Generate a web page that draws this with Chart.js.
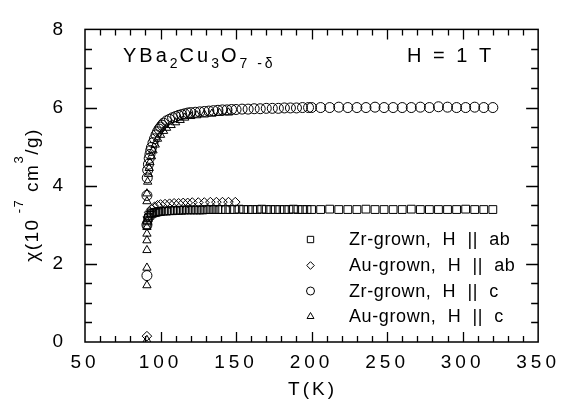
<!DOCTYPE html>
<html><head><meta charset="utf-8">
<script src="https://cdn.jsdelivr.net/npm/chart.js@4/dist/chart.umd.min.js"></script>
<style>html,body{margin:0;padding:0;background:#fff}#wrap{width:563px;height:402px}</style>
</head><body><div id="wrap"><canvas id="c" width="563" height="402"></canvas></div>
<script>
// ---- data ----
const seriesLabels = ["Zr-grown,  H  ||  ab", "Au-grown,  H  ||  ab", "Zr-grown,  H  ||  c", "Au-grown,  H  ||  c"];

const zrAbT = [91,91.5,92,93,94,95,96,97,98,99,100,
  102,104,106,108,110,112,114,116,118,120,122,124,126,128,130,132,134,136,138,140,
  143,146,149,152,155,158,161,164,167,170,173,176,179,182,185,188,191,194,197,
  200,206,212,218,224,230,236,242,248,254,260,266,272,278,284,290,296,302,308,314,320];
const zrAbChi = [3.0,3.1,3.18,3.24,3.28,3.3,3.31,3.32,3.33,3.34,3.34,
  3.35,3.35,3.36,3.36,3.37,3.37,3.37,3.38,3.38,3.38,3.38,3.38,3.38,3.38,3.39,3.39,3.39,3.39,3.39,3.39,
  3.39,3.39,3.39,3.4,3.39,3.39,3.39,3.39,3.4,3.39,3.39,3.39,3.39,3.39,3.39,3.4,3.39,3.39,3.39,
  3.39,3.39,3.4,3.39,3.39,3.39,3.4,3.39,3.39,3.39,3.39,3.4,3.39,3.39,3.39,3.39,3.39,3.4,3.39,3.39,3.39];

const auAbT = [91,91.5,92.5,94,96,98,100,103,106,109,112,115,118,121,125,129,133,137,141,145,149.5];
const auAbChi = [0.15,3.2,3.32,3.4,3.46,3.5,3.52,3.53,3.54,3.55,3.55,3.56,3.56,3.57,3.57,3.57,3.58,3.58,3.58,3.58,3.58];

const zrCT = [91,91,91,91.2,91.5,92,92.5,93,93.5,94,
  95,96,97,98,99,100,101,102,
  104,106,108,110,112,114,116,118,120,
  123,126,129,132,135,138,141,144,147,150,
  154,158,162,166,170,174,178,182,186,190,194,198,
  200,206,212,218,224,230,236,242,248,254,260,266,272,278,284,290,296,302,308,314,320];
const zrCChi = [1.7,3.0,3.75,4.2,4.4,4.55,4.7,4.8,4.9,4.98,
  5.1,5.2,5.3,5.38,5.45,5.5,5.55,5.6,
  5.66,5.7,5.74,5.77,5.8,5.82,5.84,5.86,5.87,
  5.88,5.89,5.9,5.91,5.92,5.93,5.94,5.94,5.95,5.95,
  5.96,5.96,5.97,5.97,5.98,5.98,5.98,5.99,5.99,5.99,6.0,6.0,
  6.0,6.0,6.0,6.01,6.0,6.0,6.0,6.01,6.0,6.0,6.0,6.0,6.01,6.0,6.02,6.01,6.0,6.0,6.01,6.0,6.0];

const auCT = [91,91,91,91,91,91,91,91,91,91,91.5,92,92.5,93,94,95,96.5,98,100,102,104,107,110,113,116,120,124,129,134,139,145];
const auCChi = [0.05,1.45,1.9,2.35,2.6,2.77,2.94,3.1,3.6,3.8,4.1,4.3,4.45,4.6,4.75,4.9,5.05,5.2,5.3,5.4,5.48,5.55,5.62,5.68,5.74,5.78,5.8,5.82,5.84,5.86,5.87];

const xTicks = [50,100,150,200,250,300,350];
const yTicks = [0,2,4,6,8];
const xTitle = "T(K)";
const sampleParts = [["YBa",0],["2",1],["Cu",0],["3",1],["O",0],["7 -δ",1]];
const fieldText = "H = 1 T";
const yTitleParts = [["χ(10",0],[" -7",1],[" cm",0],["3",1],["/g)",0]];

// ---- chart ----
const FONT = "'Liberation Sans', Arial, Helvetica, sans-serif";
const pts = (T, v) => T.map((t, i) => ({x: t, y: v[i]}));
const styles = ['rect','rectRot','circle','triangle'];
const radii = [5.5, 4.8, 5, 4.8];
const legendR = [4.5, 3.8, 4, 4];

function drawMarker(ctx, style, x, y, r) {
  ctx.beginPath();
  if (style === 'rect') { const s = r * Math.SQRT1_2; ctx.rect(x - s, y - s, 2*s, 2*s); }
  else if (style === 'rectRot') { ctx.moveTo(x, y - r); ctx.lineTo(x + r, y); ctx.lineTo(x, y + r); ctx.lineTo(x - r, y); ctx.closePath(); }
  else if (style === 'circle') { ctx.arc(x, y, r, 0, Math.PI*2); }
  else { ctx.moveTo(x, y - r); ctx.lineTo(x + r*0.866, y + r*0.5); ctx.lineTo(x - r*0.866, y + r*0.5); ctx.closePath(); }
  ctx.stroke();
}

const decor = {
  id: 'decor',
  beforeDraw(chart) { chart.ctx.letterSpacing = '4px'; },
  beforeDatasetsDraw(chart) { chart.ctx.letterSpacing = '0px'; },
  afterDraw(chart) {
    const ctx = chart.ctx, a = chart.chartArea, xs = chart.scales.x, ys = chart.scales.y;
    ctx.save();
    ctx.strokeStyle = '#000'; ctx.fillStyle = '#000';
    ctx.lineWidth = 1.5;
    ctx.strokeRect(a.left, a.top, a.right - a.left, a.bottom - a.top);
    ctx.lineWidth = 1.3;
    ctx.beginPath();
    for (let v = xs.min + 10; v < xs.max; v += 10) {
      const p = Math.round(xs.getPixelForValue(v)) + 0.5;
      const len = (v % 50 === 0) ? 10 : 6;
      ctx.moveTo(p, a.bottom); ctx.lineTo(p, a.bottom - len);
      ctx.moveTo(p, a.top); ctx.lineTo(p, a.top + len);
    }
    for (let v = ys.min + 0.5; v < ys.max; v += 0.5) {
      const p = Math.round(ys.getPixelForValue(v)) + 0.5;
      const len = (v % 2 === 0) ? 12 : 7;
      ctx.moveTo(a.left, p); ctx.lineTo(a.left + len, p);
      ctx.moveTo(a.right, p); ctx.lineTo(a.right - len, p);
    }
    ctx.stroke();

    // x title
    ctx.letterSpacing = '3px';
    ctx.font = '19px ' + FONT;
    ctx.textAlign = 'center'; ctx.textBaseline = 'middle';
    ctx.fillText(xTitle, (a.left + a.right) / 2 + 1, 390);

    // y title (rotated, with superscripts)
    ctx.textAlign = 'left'; ctx.textBaseline = 'alphabetic';
    ctx.letterSpacing = '1.5px';
    let total = 0;
    for (const [t, sup] of yTitleParts) { ctx.font = (sup ? '13px ' : '19px ') + FONT; total += ctx.measureText(t).width; }
    ctx.save();
    ctx.translate(38, 195 + total / 2);
    ctx.rotate(-Math.PI / 2);
    let px = 0;
    for (const [t, sup] of yTitleParts) {
      ctx.font = (sup ? '13px ' : '19px ') + FONT;
      ctx.fillText(t, px, sup ? -15 : 0);
      px += ctx.measureText(t).width;
    }
    ctx.restore();

    // sample formula with subscripts
    ctx.letterSpacing = '3px';
    px = 123;
    for (const [t, sub] of sampleParts) {
      ctx.font = (sub ? '14px ' : '20px ') + FONT;
      ctx.fillText(t, px, sub ? 68 : 62);
      px += ctx.measureText(t).width + (sub ? -1 : 0);
    }
    ctx.font = '20px ' + FONT;
    ctx.letterSpacing = '3px';
    ctx.fillText(fieldText, 407, 62);

    // legend
    const rows = [239.5, 265.5, 291, 316.5];
    ctx.font = '18px ' + FONT;
    ctx.letterSpacing = '0.6px';
    ctx.textBaseline = 'middle';
    ctx.lineWidth = 1;
    chart.data.datasets.forEach((ds, i) => {
      drawMarker(ctx, styles[i], 310.5, rows[i], legendR[i]);
      ctx.fillText(ds.label, 349, rows[i] + 1);
    });
    ctx.restore();
  }
};

const dsets = [[zrAbT, zrAbChi],[auAbT, auAbChi],[zrCT, zrCChi],[auCT, auCChi]].map((d, i) => ({
  label: seriesLabels[i],
  data: pts(d[0], d[1]),
  showLine: false,
  pointStyle: styles[i],
  pointRadius: radii[i],
  pointBorderWidth: 1,
  pointBorderColor: '#000',
  pointBackgroundColor: 'rgba(0,0,0,0)'
}));

new Chart(document.getElementById('c'), {
  type: 'scatter',
  data: { datasets: dsets },
  options: {
    responsive: false, animation: false, devicePixelRatio: 1,
    layout: { padding: { top: 19, right: 20, left: 0, bottom: 0 } },
    plugins: { legend: { display: false }, tooltip: { enabled: false } },
    scales: {
      x: {
        type: 'linear', min: 50, max: 350,
        afterFit: s => { s.height = 60; },
        afterBuildTicks: s => { s.ticks = xTicks.map(v => ({ value: v })); },
        grid: { display: false, drawTicks: false },
        border: { display: false },
        ticks: { color: '#000', font: { size: 19, family: FONT }, padding: 9, maxRotation: 0 }
      },
      y: {
        type: 'linear', min: 0, max: 8,
        afterFit: s => { s.width = 85; },
        afterBuildTicks: s => { s.ticks = yTicks.map(v => ({ value: v })); },
        grid: { display: false, drawTicks: false },
        border: { display: false },
        ticks: { color: '#000', font: { size: 19, family: FONT }, padding: 18 }
      }
    }
  },
  plugins: [decor]
});
</script></body></html>
